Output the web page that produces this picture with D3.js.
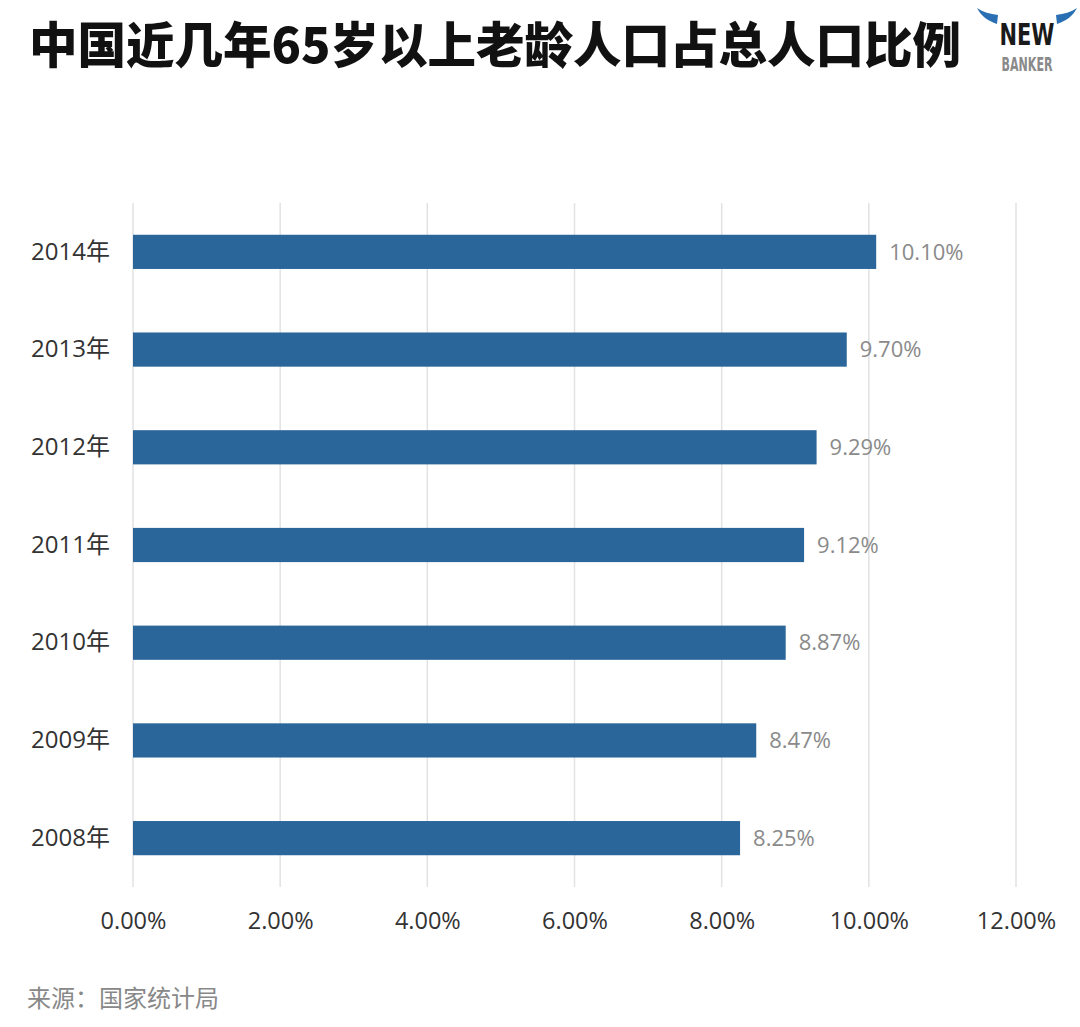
<!DOCTYPE html>
<html>
<head>
<meta charset="utf-8">
<script src="https://cdn.jsdelivr.net/npm/d3@7"></script>
<style>
  body { margin: 0; background: #fff; }
  svg { display: block; }
</style>
</head>
<body>
<svg id="chart" width="1080" height="1027"></svg>
<script>
// data
var years = ["2014年", "2013年", "2012年", "2011年", "2010年", "2009年", "2008年"];
var values = [10.10, 9.70, 9.29, 9.12, 8.87, 8.47, 8.25];
var ticks = [0, 2, 4, 6, 8, 10, 12];

var svg = d3.select("#chart");
var font = "'Open Sans', 'Noto Sans CJK SC', sans-serif";

var x = d3.scaleLinear().domain([0, 12]).range([133, 1016]);
var y = d3.scaleBand().domain(years).range([203, 887])
  .paddingInner(0.65).paddingOuter(0.325);

// title
svg.append("text")
  .attr("x", 29).attr("y", 63)
  .attr("font-family", "'Noto Sans CJK SC', sans-serif")
  .attr("font-weight", 900)
  .attr("font-size", 48.5)
  .attr("fill", "#111")
  .text("中国近几年65岁以上老龄人口占总人口比例");

// grid
svg.append("g").selectAll("line").data(ticks).join("line")
  .attr("x1", function(d){ return x(d); })
  .attr("x2", function(d){ return x(d); })
  .attr("y1", 203).attr("y2", 887)
  .attr("stroke", "#e2e2e2").attr("stroke-width", 1.5);

// x axis
var xAxis = svg.append("g")
  .attr("transform", "translate(0,887)")
  .call(d3.axisBottom(x).tickValues(ticks).tickSize(0).tickPadding(25)
    .tickFormat(function(d){ return d3.format(".2f")(d) + "%"; }));
xAxis.select(".domain").remove();
xAxis.selectAll("text")
  .attr("font-family", font).attr("font-size", 23.5).attr("fill", "#333");

// y axis
var yAxis = svg.append("g")
  .attr("transform", "translate(110,0)")
  .call(d3.axisLeft(y).tickSize(0).tickPadding(0));
yAxis.select(".domain").remove();
yAxis.selectAll("text")
  .attr("font-family", font).attr("font-size", 24).attr("fill", "#333");

// bars
svg.append("g").selectAll("rect").data(values).join("rect")
  .attr("x", x(0))
  .attr("y", function(d, i){ return y(years[i]); })
  .attr("width", function(d){ return x(d) - x(0); })
  .attr("height", y.bandwidth())
  .attr("fill", "#2a6699");

// value labels
svg.append("g").selectAll("text").data(values).join("text")
  .attr("x", function(d){ return x(d) + 13; })
  .attr("y", function(d, i){ return y(years[i]) + y.bandwidth() / 2; })
  .attr("dy", "0.35em")
  .attr("font-family", font).attr("font-size", 22)
  .attr("fill", "#8a8a8a")
  .text(function(d){ return d3.format(".2f")(d) + "%"; });

// source
svg.append("text")
  .attr("x", 27).attr("y", 1007)
  .attr("font-family", "'Noto Sans CJK SC', sans-serif")
  .attr("font-size", 24)
  .attr("fill", "#888")
  .text("来源：国家统计局");

// logo
var logo = svg.append("g").attr("transform", "translate(977,6)");
logo.append("path")
  .attr("d", "M0,2 C6,6 13,8 21,9 L20,18 C11,15 4,10 0,2 Z")
  .attr("fill", "#2a6fb3");
logo.append("path")
  .attr("d", "M100,2 C94,6 87,8 79,9 L80,18 C89,15 96,10 100,2 Z")
  .attr("fill", "#2a6fb3");
logo.append("text")
  .attr("x", 50).attr("y", 39)
  .attr("text-anchor", "middle")
  .attr("font-family", "'Liberation Sans Narrow', 'DejaVu Sans Condensed', sans-serif")
  .attr("font-weight", 700).attr("font-size", 31)
  .attr("textLength", 55).attr("lengthAdjust", "spacingAndGlyphs")
  .attr("fill", "#1a1a1a")
  .text("NEW");
logo.append("text")
  .attr("x", 50).attr("y", 65)
  .attr("text-anchor", "middle")
  .attr("font-family", "'Liberation Sans Narrow', 'DejaVu Sans Condensed', sans-serif")
  .attr("font-weight", 700).attr("font-size", 19)
  .attr("textLength", 51).attr("lengthAdjust", "spacingAndGlyphs")
  .attr("fill", "#8a8a8a")
  .text("BANKER");
</script>
</body>
</html>
